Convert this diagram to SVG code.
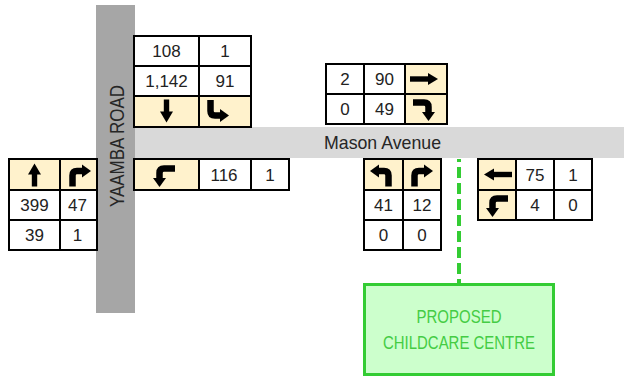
<svg xmlns="http://www.w3.org/2000/svg" width="624" height="377" viewBox="0 0 624 377">
<style>
.c{fill:#fff;stroke:#000;stroke-width:2}
.b{fill:#fff2cc;stroke:#000;stroke-width:2}
.n{font-family:"Liberation Sans",Arial,sans-serif;font-size:17px;fill:#222;text-anchor:middle}
.road{font-family:"Liberation Sans",Arial,sans-serif;fill:#262626}
.g{font-family:"Liberation Sans",Arial,sans-serif;font-size:18px;fill:#44cc44;text-anchor:middle}
</style>
<defs>
<g id="aDown"><rect x="-2.7" y="-12" width="5.4" height="13"/><polygon points="-6.5,0 6.5,0 0,11"/></g>
<g id="aRight"><rect x="-14" y="-2.7" width="19" height="5.4"/><polygon points="4,-6 14,0 4,6"/></g>
<g id="aTurn"><path d="M-6.5 11V0Q-6.5 -4.5 -2 -4.5H4" fill="none" stroke="#000" stroke-width="6.5"/><polygon points="3,-11 12,-4.5 3,2"/></g>
</defs>
<rect width="624" height="377" fill="#fff"/>
<g id="roads">
<rect x="135" y="127" width="489" height="31" fill="#d9d9d9"/>
<rect x="96" y="5" width="39" height="308" fill="#a6a6a6"/>
<text class="road" x="324" y="149" font-size="19" textLength="117" lengthAdjust="spacingAndGlyphs">Mason Avenue</text>
<text class="road" transform="translate(124,146) rotate(-90)" text-anchor="middle" font-size="20" textLength="122" lengthAdjust="spacingAndGlyphs">YAAMBA ROAD</text>
</g>
<g id="connectors">
<line x1="459" y1="159" x2="459" y2="283" stroke="#33cc33" stroke-width="4" stroke-dasharray="11 5" stroke-dashoffset="8"/>
</g>
<g id="node-north">
<rect class="c" x="134" y="36" width="65" height="30"/><rect class="c" x="199" y="36" width="52" height="30"/>
<rect class="c" x="134" y="66" width="65" height="30"/><rect class="c" x="199" y="66" width="52" height="30"/>
<rect class="b" x="134" y="96" width="65" height="31"/><rect class="b" x="199" y="96" width="52" height="31"/>
<text class="n" x="166.5" y="57">108</text><text class="n" x="225" y="57">1</text>
<text class="n" x="166.5" y="87">1,142</text><text class="n" x="225" y="87">91</text>
<use href="#aDown" transform="translate(166.5,111.5)"/>
<use href="#aTurn" transform="translate(217,111) scale(1,-1)"/>
</g>
<g id="node-mason-west">
<rect class="c" x="326" y="64" width="38" height="30"/><rect class="c" x="364" y="64" width="41" height="30"/><rect class="b" x="405" y="64" width="42" height="30"/>
<rect class="c" x="326" y="94" width="38" height="30"/><rect class="c" x="364" y="94" width="41" height="30"/><rect class="b" x="405" y="94" width="42" height="30"/>
<text class="n" x="345" y="85">2</text><text class="n" x="384.5" y="85">90</text>
<text class="n" x="345" y="115">0</text><text class="n" x="384.5" y="115">49</text>
<use href="#aRight" transform="translate(424,79)"/>
<use href="#aTurn" transform="translate(424,109) rotate(90)"/>
</g>
<g id="node-south">
<rect class="b" x="9" y="159" width="51" height="31"/><rect class="b" x="60" y="159" width="37" height="31"/>
<rect class="c" x="9" y="190" width="51" height="30"/><rect class="c" x="60" y="190" width="37" height="30"/>
<rect class="c" x="9" y="220" width="51" height="30"/><rect class="c" x="60" y="220" width="37" height="30"/>
<text class="n" x="34.5" y="211">399</text><text class="n" x="77.5" y="211">47</text>
<text class="n" x="34.5" y="241">39</text><text class="n" x="77.5" y="241">1</text>
<use href="#aDown" transform="translate(34.5,174.5) rotate(180)"/>
<use href="#aTurn" transform="translate(79,175.5)"/>
</g>
<g id="node-mason-east-left">
<rect class="b" x="134" y="159" width="65" height="31"/><rect class="c" x="199" y="159" width="52" height="31"/><rect class="c" x="251" y="159" width="38" height="31"/>
<text class="n" x="224" y="181">116</text><text class="n" x="270" y="181">1</text>
<use href="#aTurn" transform="translate(164,175) scale(-1,1) rotate(90)"/>
</g>
<g id="node-site-access">
<rect class="b" x="364" y="159" width="39" height="31"/><rect class="b" x="403" y="159" width="38" height="31"/>
<rect class="c" x="364" y="190" width="39" height="30"/><rect class="c" x="403" y="190" width="38" height="30"/>
<rect class="c" x="364" y="220" width="39" height="30"/><rect class="c" x="403" y="220" width="38" height="30"/>
<text class="n" x="383.5" y="211">41</text><text class="n" x="422" y="211">12</text>
<text class="n" x="383.5" y="241">0</text><text class="n" x="422" y="241">0</text>
<use href="#aTurn" transform="translate(382,175.5) scale(-1,1)"/>
<use href="#aTurn" transform="translate(421,175.5)"/>
</g>
<g id="node-mason-east">
<rect class="b" x="478" y="159" width="38" height="31"/><rect class="c" x="516" y="159" width="38" height="31"/><rect class="c" x="554" y="159" width="38" height="31"/>
<rect class="b" x="478" y="190" width="38" height="30"/><rect class="c" x="516" y="190" width="38" height="30"/><rect class="c" x="554" y="190" width="38" height="30"/>
<text class="n" x="535" y="181">75</text><text class="n" x="573" y="181">1</text>
<text class="n" x="535" y="211">4</text><text class="n" x="573" y="211">0</text>
<use href="#aRight" transform="translate(498,174.5) rotate(180)"/>
<use href="#aTurn" transform="translate(497,205) scale(-1,1) rotate(90)"/>
</g>
<g id="node-childcare">
<rect x="364.5" y="284.5" width="189" height="90" fill="#ccffcc" stroke="#33cc33" stroke-width="3"/>
<text class="g" x="459" y="323" textLength="85" lengthAdjust="spacingAndGlyphs">PROPOSED</text>
<text class="g" x="459" y="349" textLength="152" lengthAdjust="spacingAndGlyphs">CHILDCARE CENTRE</text>
</g>
</svg>
